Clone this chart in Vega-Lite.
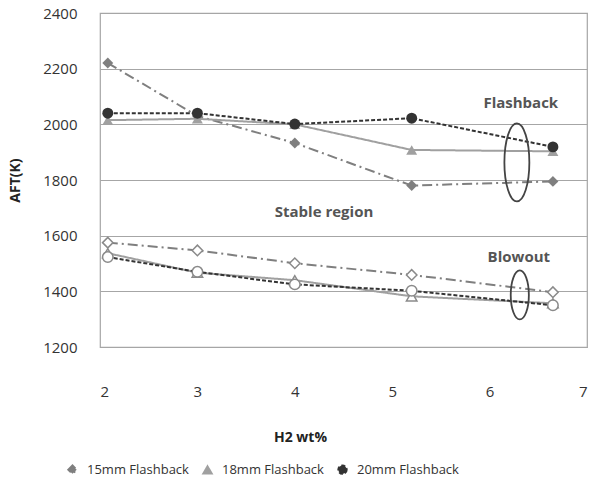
{
  "$schema": "https://vega.github.io/schema/vega-lite/v6.json",
  "autosize": {"type": "none"},
  "padding": {"left": 100, "top": 13, "right": 11, "bottom": 136},
  "width": 487,
  "height": 334,
  "background": "white",
  "config": {
    "font": "Open Sans",
    "view": {"stroke": "#a6a6a6", "strokeWidth": 1.2},
    "legend": {
      "orient": "none", "direction": "horizontal", "legendX": -34, "legendY": 450,
      "title": null, "labelFontSize": 13, "labelColor": "#333", "symbolSize": 70,
      "columnPadding": 10, "labelOffset": 8, "symbolStrokeWidth": 2
    }
  },
  "datasets": {
    "main": [
      {"h2": 2.08, "aft": 2220, "size": "15mm", "kind": "Flashback"},
      {"h2": 3.0, "aft": 2030, "size": "15mm", "kind": "Flashback"},
      {"h2": 4.0, "aft": 1933, "size": "15mm", "kind": "Flashback"},
      {"h2": 5.2, "aft": 1780, "size": "15mm", "kind": "Flashback"},
      {"h2": 6.65, "aft": 1795, "size": "15mm", "kind": "Flashback"},
      {"h2": 2.08, "aft": 2015, "size": "18mm", "kind": "Flashback"},
      {"h2": 3.0, "aft": 2020, "size": "18mm", "kind": "Flashback"},
      {"h2": 4.0, "aft": 2000, "size": "18mm", "kind": "Flashback"},
      {"h2": 5.2, "aft": 1908, "size": "18mm", "kind": "Flashback"},
      {"h2": 6.65, "aft": 1903, "size": "18mm", "kind": "Flashback"},
      {"h2": 2.08, "aft": 2040, "size": "20mm", "kind": "Flashback"},
      {"h2": 3.0, "aft": 2040, "size": "20mm", "kind": "Flashback"},
      {"h2": 4.0, "aft": 2001, "size": "20mm", "kind": "Flashback"},
      {"h2": 5.2, "aft": 2022, "size": "20mm", "kind": "Flashback"},
      {"h2": 6.65, "aft": 1919, "size": "20mm", "kind": "Flashback"},
      {"h2": 2.08, "aft": 1575, "size": "15mm", "kind": "Blowout"},
      {"h2": 3.0, "aft": 1547, "size": "15mm", "kind": "Blowout"},
      {"h2": 4.0, "aft": 1501, "size": "15mm", "kind": "Blowout"},
      {"h2": 5.2, "aft": 1459, "size": "15mm", "kind": "Blowout"},
      {"h2": 6.65, "aft": 1397, "size": "15mm", "kind": "Blowout"},
      {"h2": 2.08, "aft": 1537, "size": "18mm", "kind": "Blowout"},
      {"h2": 3.0, "aft": 1467, "size": "18mm", "kind": "Blowout"},
      {"h2": 4.0, "aft": 1440, "size": "18mm", "kind": "Blowout"},
      {"h2": 5.2, "aft": 1382, "size": "18mm", "kind": "Blowout"},
      {"h2": 6.65, "aft": 1357, "size": "18mm", "kind": "Blowout"},
      {"h2": 2.08, "aft": 1523, "size": "20mm", "kind": "Blowout"},
      {"h2": 3.0, "aft": 1470, "size": "20mm", "kind": "Blowout"},
      {"h2": 4.0, "aft": 1425, "size": "20mm", "kind": "Blowout"},
      {"h2": 5.2, "aft": 1402, "size": "20mm", "kind": "Blowout"},
      {"h2": 6.65, "aft": 1350, "size": "20mm", "kind": "Blowout"}
    ],
    "labels": [
      {"h2": 6.32, "aft": 2077, "text": "Flashback"},
      {"h2": 4.3, "aft": 1686, "text": "Stable region"},
      {"h2": 6.3, "aft": 1524, "text": "Blowout"}
    ],
    "rings": [
      {"h2": 6.28, "aft": 1863, "ring": "Flashback"},
      {"h2": 6.31, "aft": 1387, "ring": "Blowout"}
    ]
  },
  "encoding": {
    "x": {
      "field": "h2", "type": "quantitative",
      "scale": {"domain": [2, 7], "nice": false, "zero": false},
      "axis": {
        "values": [2, 3, 4, 5, 6, 7], "grid": false, "ticks": false, "domain": false,
        "labelFontSize": 15, "labelColor": "#333", "labelPadding": 37,
        "title": "H2 wt%", "titleFontSize": 14, "titleFontWeight": "bold", "titleColor": "#222",
        "titleX": 200, "titleY": 90, "titleBaseline": "middle"
      }
    },
    "y": {
      "field": "aft", "type": "quantitative",
      "scale": {"domain": [1200, 2400], "nice": false, "zero": false},
      "axis": {
        "values": [1200, 1400, 1600, 1800, 2000, 2200, 2400], "format": "d",
        "grid": true, "gridColor": "#a6a6a6", "gridWidth": 1.2,
        "ticks": false, "domain": false,
        "labelFontSize": 15, "labelColor": "#333", "labelPadding": 23,
        "title": "AFT(K)", "titleFontSize": 14, "titleFontWeight": "bold", "titleColor": "#222",
        "titleX": -85, "titleY": 167, "titleAngle": -90, "titleAlign": "center", "titleBaseline": "middle"
      }
    }
  },
  "layer": [
    {
      "data": {"name": "main"},
      "mark": {"type": "line", "strokeWidth": 2},
      "encoding": {
        "detail": {"field": "kind"},
        "color": {
          "field": "size", "type": "nominal",
          "scale": {"domain": ["15mm", "18mm", "20mm"], "range": ["#7f7f7f", "#a0a0a0", "#333333"]},
          "legend": {"labelExpr": "datum.label + ' Flashback'"}
        },
        "strokeDash": {
          "field": "size", "type": "nominal",
          "scale": {"domain": ["15mm", "18mm", "20mm"], "range": [[10, 4, 2, 4], [1, 0], [4, 2]]},
          "legend": {"labelExpr": "datum.label + ' Flashback'"}
        }
      }
    },
    {
      "data": {"name": "main"},
      "transform": [{"filter": "datum.kind === 'Flashback'"}],
      "mark": {"type": "point", "filled": true, "size": 120, "opacity": 1},
      "encoding": {
        "shape": {
          "field": "size", "type": "nominal",
          "scale": {"domain": ["15mm", "18mm", "20mm"], "range": ["diamond", "triangle-up", "circle"]},
          "legend": {"labelExpr": "datum.label + ' Flashback'"}
        },
        "color": {
          "field": "size", "type": "nominal",
          "scale": {"domain": ["15mm", "18mm", "20mm"], "range": ["#7f7f7f", "#a0a0a0", "#333333"]},
          "legend": {"labelExpr": "datum.label + ' Flashback'"}
        }
      }
    },
    {
      "data": {"name": "main"},
      "transform": [{"filter": "datum.kind === 'Blowout'"}],
      "mark": {"type": "point", "filled": true, "fill": "white", "stroke": "#8a8a8a", "strokeWidth": 1.5, "size": 110, "opacity": 1},
      "encoding": {
        "shape": {
          "field": "size", "type": "nominal",
          "scale": {"domain": ["15mm", "18mm", "20mm"], "range": ["diamond", "triangle-up", "circle"]},
          "legend": {"labelExpr": "datum.label + ' Flashback'"}
        }
      }
    },
    {
      "data": {"name": "labels"},
      "mark": {"type": "text", "font": "Open Sans", "fontSize": 15, "fontWeight": "bold", "color": "#555"},
      "encoding": {"text": {"field": "text"}}
    },
    {
      "data": {"name": "rings"},
      "transform": [{"filter": "datum.ring === 'Flashback'"}],
      "mark": {"type": "point", "filled": false, "stroke": "#444", "strokeWidth": 1.8, "opacity": 1, "size": 6084,
        "shape": "M0,-1 A0.32,1 0 1,1 0,1 A0.32,1 0 1,1 0,-1 Z"}
    },
    {
      "data": {"name": "rings"},
      "transform": [{"filter": "datum.ring === 'Blowout'"}],
      "mark": {"type": "point", "filled": false, "stroke": "#444", "strokeWidth": 1.8, "opacity": 1, "size": 2401,
        "shape": "M0,-1 A0.37,1 0 1,1 0,1 A0.37,1 0 1,1 0,-1 Z"}
    }
  ]
}
